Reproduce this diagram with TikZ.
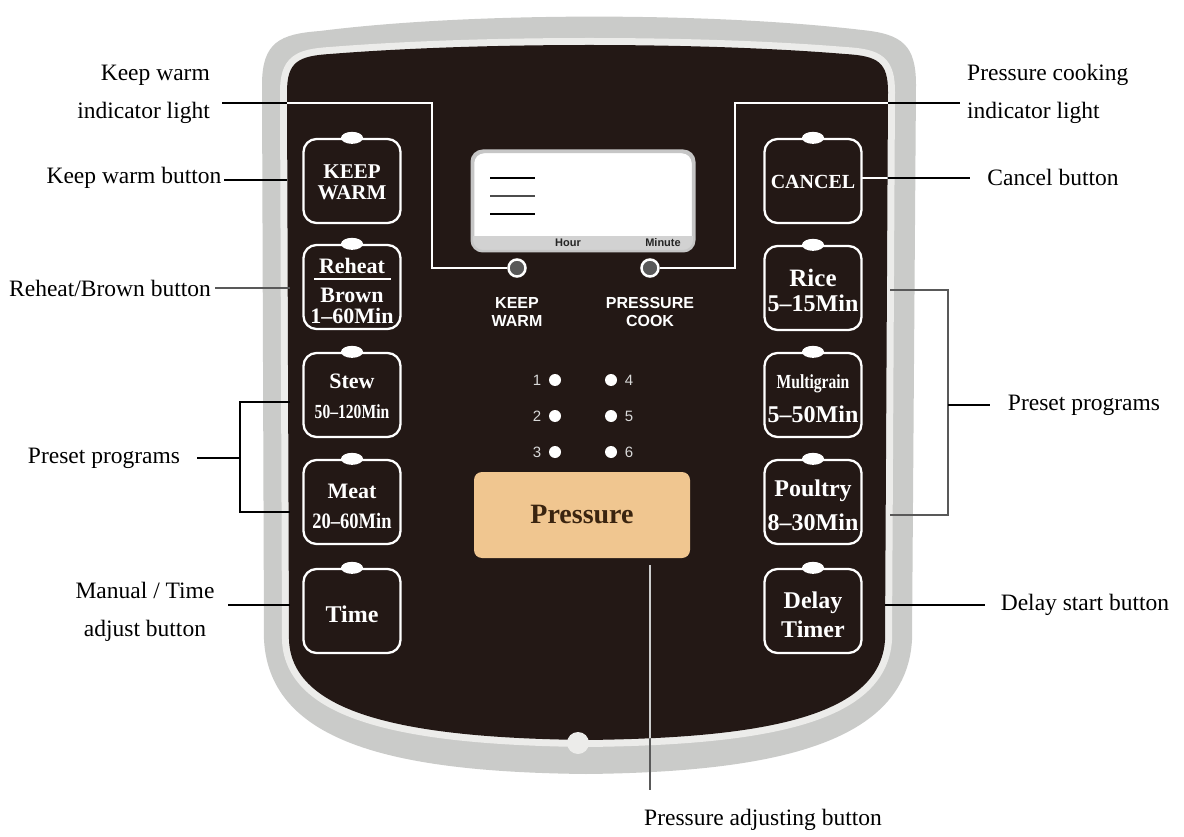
\documentclass[tikz,border=0pt]{standalone}
\usepackage{fontspec}
\setmainfont{Liberation Serif}
\newfontfamily\sansf{Liberation Sans}
\usetikzlibrary{calc}
\definecolor{panel}{HTML}{231815}
\definecolor{silver}{HTML}{CACBC9}
\definecolor{silverlt}{HTML}{ECECEA}
\definecolor{tanbtn}{HTML}{F0C690}
\definecolor{pbrown}{HTML}{3A2410}
\def\shellpath{(262,85) .. controls (262,42) and (280,34) .. (320,31) .. controls (470,12) and (710,12) .. (862,30) .. controls (902,34) and (916,45) .. (916,85) -- (912,640) .. controls (906,745) and (770,772) .. (586,774) .. controls (400,772) and (270,745) .. (264,640) -- cycle}
\def\panelpath{(287,92) .. controls (287,62) and (298,56) .. (330,54) .. controls (480,42) and (700,42) .. (845,54) .. controls (878,56) and (888,62) .. (888,92) -- (885,640) .. controls (880,718) and (760,738) .. (586,740) .. controls (420,738) and (292,718) .. (289,640) -- cycle}
\begin{document}
\begin{tikzpicture}[x=1pt,y=-1pt,
  lbl/.style={font=\fontsize{23.5}{38}\selectfont, align=center, inner sep=0pt, text=black},
  btn/.style={draw=white, line width=2.3pt, rounded corners=13pt, minimum width=97pt, minimum height=84pt, inner sep=0pt},
  bt/.style={text=white, inner sep=0pt, font=\fontsize{22}{23}\selectfont\bfseries},
  lead/.style={line width=1.1pt, black},
  leadw/.style={line width=1.1pt, white},
  dot/.style={circle, fill=white, minimum size=12pt, inner sep=0pt},
  num/.style={text=white!85!black, font=\sansf\fontsize{15}{15}\selectfont, inner sep=0pt},
  ind/.style={circle, draw=white, line width=2.5pt, fill=gray!70!black, minimum size=17pt, inner sep=0pt},
  plabel/.style={text=white, font=\sansf\bfseries\fontsize{16}{18}\selectfont, align=center, inner sep=0pt}]
\useasboundingbox (0,0) rectangle (1184,837);
\fill[white] (0,0) rectangle (1184,837);
% shell and panel
\fill[silver] \shellpath;
\draw[silverlt, line width=14pt] \panelpath;
\fill[panel] \panelpath;
\fill[silverlt] (578,743) circle (11);
% left buttons
\node[btn] (bkw) at (352,181) {};
\node[btn] (brh) at (352,287) {};
\node[btn] (bst) at (352,395) {};
\node[btn] (bmt) at (352,502) {};
\node[btn] (btm) at (352,611) {};
% right buttons
\node[btn] (bcn) at (813,181) {};
\node[btn] (bri) at (813,288) {};
\node[btn] (bmg) at (813,395) {};
\node[btn] (bpo) at (813,502) {};
\node[btn] (bdl) at (813,611) {};
\foreach \b in {bkw,brh,bst,bmt,btm,bcn,bri,bmg,bpo,bdl}{
  \fill[white] (\b.north) ellipse (11 and 6);
}
% button texts
\node[bt, font=\fontsize{21}{21}\selectfont\bfseries] (t1) at (352,172) {KEEP};
\node[bt, font=\fontsize{21}{21}\selectfont\bfseries] (t2) at (352,193) {WARM};
\node[bt] (t3) at (352,266) {Reheat};
\draw[white, line width=2pt] (314,279) -- (391,279);
\node[bt] (t4) at (352,295) {Brown};
\node[bt] (t5) at (352,316) {1--60Min};
\node[bt] (t6) at (352,381) {Stew};
\node[bt] (t7) at (352,412) {\scalebox{0.78}[1]{\fontsize{20}{20}\selectfont 50--120Min}};
\node[bt] (t8) at (352,491) {Meat};
\node[bt] (t9) at (352,521) {\scalebox{0.84}[1]{20--60Min}};
\node[bt, font=\fontsize{24}{24}\selectfont\bfseries] (t10) at (352,614) {Time};
\node[bt, font=\fontsize{20}{20}\selectfont\bfseries] (t11) at (813,182) {CANCEL};
\node[bt, font=\fontsize{25}{25}\selectfont\bfseries] (t12) at (813,278) {Rice};
\node[bt, font=\fontsize{24}{24}\selectfont\bfseries] (t13) at (813,303) {5--15Min};
\node[bt] (t14) at (813,384) {\scalebox{0.78}[1]{\fontsize{20}{20}\selectfont Multigrain}};
\node[bt, font=\fontsize{24}{24}\selectfont\bfseries] (t15) at (813,414) {5--50Min};
\node[bt, font=\fontsize{24}{24}\selectfont\bfseries] (t16) at (813,491) {Poultry};
\node[bt, font=\fontsize{24}{24}\selectfont\bfseries] (t17) at (813,522) {8--30Min};
\node[bt, font=\fontsize{24}{24}\selectfont\bfseries] (t18) at (813,603) {Delay};
\node[bt, font=\fontsize{24}{24}\selectfont\bfseries] (t19) at (813,629) {Timer};
% display
\node[draw=gray!45, line width=2.5pt, fill=white, rounded corners=11pt, minimum width=220pt, minimum height=98pt, inner sep=0pt] (disp) at (583,201) {};
\begin{scope}
\clip[rounded corners=11pt] (disp.south west) rectangle (disp.north east);
\fill[gray!35] (473,236) rectangle (694,251);
\end{scope}
\draw[gray!45, line width=2.5pt, rounded corners=11pt] (disp.south west) rectangle (disp.north east);
\draw[black, line width=1.6pt] (490,178) -- (535,178);
\draw[gray!60!black, line width=1.3pt] (490,196) -- (535,196);
\draw[black, line width=1.6pt] (490,214) -- (535,214);
\node[inner sep=0pt, text=gray!30!black, font=\sansf\bfseries\fontsize{11}{11}\selectfont] (hour) at (568,243) {Hour};
\node[inner sep=0pt, text=gray!30!black, font=\sansf\bfseries\fontsize{11}{11}\selectfont] (minute) at (663,243) {Minute};
% indicator lights
\node[ind] (ikw) at (517,268) {};
\node[ind] (ipc) at (650,268) {};
\node[plabel] (pkw) at (517,312) {KEEP\\WARM};
\node[plabel] (ppc) at (650,312) {PRESSURE\\COOK};
% pressure dots
\node[dot] (d1) at (555,380) {};
\node[dot] (d2) at (555,416) {};
\node[dot] (d3) at (555,452) {};
\node[dot] (d4) at (611,380) {};
\node[dot] (d5) at (611,416) {};
\node[dot] (d6) at (611,452) {};
\node[num] (n1) at (537,380) {1};
\node[num] (n2) at (537,416) {2};
\node[num] (n3) at (537,452) {3};
\node[num] (n4) at (629,380) {4};
\node[num] (n5) at (629,416) {5};
\node[num] (n6) at (629,452) {6};
% pressure button
\node[fill=tanbtn, rounded corners=8pt, minimum width=216pt, minimum height=86pt, inner sep=0pt, text=pbrown, font=\fontsize{28}{28}\selectfont\bfseries] (pbtn) at (582,515) {Pressure};
% labels
\node[lbl, align=right, anchor=east] (Lkwi) at (210,94) {Keep warm\\indicator light};
\node[lbl] (Lkwb) at (134,178) {Keep warm button};
\node[lbl] (Lrh) at (110,288) {Reheat/Brown button};
\node[lbl] (Lpl) at (104,458) {Preset programs};
\node[lbl] (Lman) at (145,612) {Manual / Time\\adjust button};
\node[lbl, align=left, anchor=west] (Lpci) at (967,94) {Pressure cooking\\indicator light};
\node[lbl] (Lcn) at (1053,177) {Cancel button};
\node[lbl] (Lpr) at (1084,405) {Preset programs};
\node[lbl] (Ldl) at (1085,605) {Delay start button};
\node[lbl] (Lpa) at (763,820) {Pressure adjusting button};
% leader coordinates
\coordinate (a1) at (222,103);
\coordinate (a2) at (432,103);
\coordinate (b1) at (735,103);
\coordinate (b2) at (960,103);
\coordinate (c1) at (224,180);
\coordinate (c2) at (287,180);
\coordinate (e1) at (215,288);
\coordinate (e2) at (290,288);
\coordinate (f1) at (197,458);
\coordinate (f2) at (240,458);
\coordinate (f3) at (290,402);
\coordinate (f4) at (290,512);
\coordinate (g1) at (228,605);
\coordinate (g2) at (290,605);
\coordinate (h1) at (862,178);
\coordinate (h2) at (970,178);
\coordinate (k1) at (890,290);
\coordinate (k2) at (948,405);
\coordinate (k3) at (890,515);
\coordinate (k4) at (990,405);
\coordinate (m1) at (885,605);
\coordinate (m2) at (985,605);
\coordinate (p1) at (650,565);
\coordinate (p2) at (650,790);
% leaders (black)
\draw[lead] (a1) -- (a2) |- (ikw.west);
\draw[lead] (ipc.east) -| (b1) -- (b2);
\draw[lead] (c1) -- (c2);
\draw[lead, gray!70!black] (e1) -- (e2);
\draw[lead] (f1) -- (f2);
\draw[lead] (f3) -| (f2) |- (f4);
\draw[lead] (g1) -- (g2);
\draw[lead] (h1) -- (h2);
\draw[lead, gray!70!black] (k1) -| (k2) |- (k3);
\draw[lead] (k2) -- (k4);
\draw[lead] (m1) -- (m2);
\draw[lead, gray!70!black] (p1) -- (p2);
% leaders inside the dark panel (white)
\begin{scope}
\clip \panelpath;
\draw[leadw] (a1) -- (a2) |- (ikw.west);
\draw[leadw] (ipc.east) -| (b1) -- (b2);
\draw[leadw] (h1) -- (h2);
\draw[leadw, white!80!black] (p1) -- (p2);
\end{scope}
\end{tikzpicture}
\end{document}
